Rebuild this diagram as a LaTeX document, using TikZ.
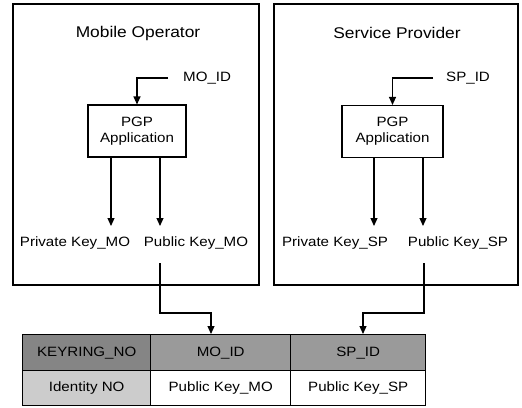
\documentclass[tikz,border=0pt]{standalone}
\usepackage{fontspec}
\setmainfont[FakeStretch=1.12]{Liberation Sans}
\usetikzlibrary{arrows.meta}
\definecolor{headdark}{HTML}{858585}
\definecolor{headmid}{HTML}{9A9A9A}
\definecolor{idgray}{HTML}{CCCCCC}
\begin{document}
\begin{tikzpicture}[x=1pt,y=-1pt,
    frame/.style={draw,line width=1.1pt},
    title/.style={font=\fontsize{15.5}{18}\selectfont},
    lbl/.style={font=\fontsize{13.5}{16}\selectfont,inner sep=0pt},
    pgpbox/.style={draw,line width=1.1pt,minimum height=52pt,align=center,
                   font=\fontsize{13.5}{16}\selectfont},
    cell/.style={draw,line width=1.4pt,anchor=north west,minimum height=36pt,
                 font=\fontsize{13.5}{16}\selectfont,inner sep=0pt},
    arr/.style={line width=1.1pt,-{Triangle[width=7pt,length=8pt]}}]
  \useasboundingbox (0,0) rectangle (522,407);
  % the two parties
  \draw[frame] (13,4) rectangle (259,285);
  \draw[frame] (274,4) rectangle (518,285);
  \node[title] (tMO) at (138,33) {Mobile Operator};
  \node[title] (tSP) at (397,33) {Service Provider};
  % PGP boxes
  \node[pgpbox,minimum width=98pt] (pgpMO) at (137,131) {PGP\\Application};
  \node[pgpbox,minimum width=101pt] (pgpSP) at (392.5,131.5) {PGP\\Application};
  \node[lbl,anchor=west] (moid) at (183,78) {MO\_ID};
  \node[lbl,anchor=west] (spid) at (446,78) {SP\_ID};
  \draw[arr] ([xshift=-15pt]moid.west) -| (pgpMO.north);
  \draw[arr] ([xshift=-13pt]spid.west) -| (pgpSP.north);
  % keys out of the application
  \node[lbl] (privMO) at (75,243) {Private Key\_MO};
  \node[lbl] (pubMO) at (196,243) {Public Key\_MO};
  \node[lbl] (privSP) at (335,243) {Private Key\_SP};
  \node[lbl] (pubSP) at (458,243) {Public Key\_SP};
  \foreach \n/\x in {a/111,b/160,c/374,d/423}
    \coordinate (\n) at (\x,226);
  \foreach \n in {a,b}
    \draw[arr] (pgpMO.south -| \n) -- (\n);
  \foreach \n in {c,d}
    \draw[arr] (pgpSP.south -| \n) -- (\n);
  % keyring table
  \node[cell,fill=headdark,minimum width=128pt] (kno) at (22,334) {KEYRING\_NO};
  \node[cell,fill=headmid,minimum width=140pt] (hMO) at (150,334) {MO\_ID};
  \node[cell,fill=headmid,minimum width=135pt] (hSP) at (290,334) {SP\_ID};
  \node[cell,fill=idgray,minimum width=128pt,minimum height=35pt] (ino) at (22,370) {Identity NO};
  \node[cell,fill=white,minimum width=140pt,minimum height=35pt] (vMO) at (150,370) {Public Key\_MO};
  \node[cell,fill=white,minimum width=135pt,minimum height=35pt] (vSP) at (290,370) {Public Key\_SP};
  % public keys into the table
  \coordinate (outMO) at (160,263);
  \coordinate (outSP) at (424,263);
  \coordinate (inMO) at (211,313);
  \coordinate (inSP) at (363,313);
  \draw[arr] (outMO) |- (inMO) -- (inMO |- hMO.north);
  \draw[arr] (outSP) |- (inSP) -- (inSP |- hSP.north);
\end{tikzpicture}
\end{document}
